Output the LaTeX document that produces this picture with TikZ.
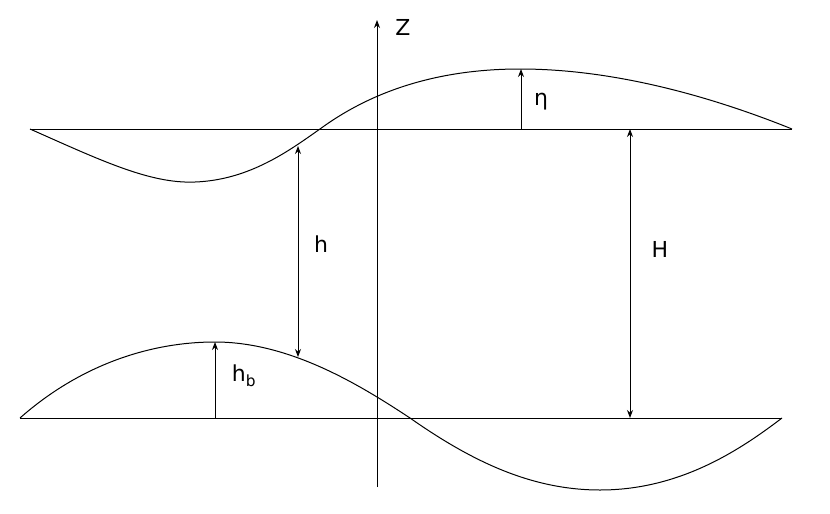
\documentclass[tikz,border=0pt]{standalone}
\usepackage{fontspec}
\setmainfont{DejaVu Sans}
\usetikzlibrary{arrows.meta}
\begin{document}
\begin{tikzpicture}[x=1pt,y=-1pt,line width=1pt,
  arr/.style={-{Stealth[length=8pt,width=6pt]}},
  darr/.style={{Stealth[length=8pt,width=6pt]}-{Stealth[length=8pt,width=6pt]}},
  lab/.style={font=\fontsize{22}{26}\selectfont,inner sep=0pt}]
\useasboundingbox (0,0) rectangle (830,514);
% reference lines
\coordinate (tl) at (30,129); \coordinate (tr) at (792,129);
\coordinate (bl) at (20,418); \coordinate (br) at (782,418);
\draw (tl) -- (tr);
\draw (bl) -- (br);
% top wave
\draw (30,129) .. controls (100,160) and (150,184) .. (195,182)
      .. controls (250,180) and (290,150) .. (320,129)
      .. controls (380,85) and (450,69) .. (520,69)
      .. controls (620,69) and (720,100) .. (792,129);
% bottom wave
\draw (20,418) .. controls (80,365) and (150,342) .. (215,342)
      .. controls (290,342) and (360,385) .. (410,418)
      .. controls (470,460) and (530,490) .. (600,490)
      .. controls (680,490) and (740,450) .. (782,418);
% z axis
\coordinate (z0) at (377,487); \coordinate (z1) at (377,20);
\draw[arr] (z0) -- (z1);
\node[lab] (zl) at (403,27) {Z};
% eta
\coordinate (e0) at (521,129); \coordinate (e1) at (521,69);
\draw[arr] (e0) -- (e1);
\node[lab] (el) at (541,102) {η};
% H
\coordinate (H0) at (630,129); \coordinate (H1) at (630,418);
\draw[darr] (H0) -- (H1);
\node[lab] (Hl) at (660,249) {H};
% h
\coordinate (h0) at (298,146); \coordinate (h1) at (298,357);
\draw[darr] (h0) -- (h1);
\node[lab] (hl) at (321,244) {h};
% hb
\coordinate (b0) at (215,418); \coordinate (b1) at (215,342);
\draw[arr] (b0) -- (b1);
\node[lab] (bl2) at (244,376) {h\textsubscript{b}};
\end{tikzpicture}
\end{document}
